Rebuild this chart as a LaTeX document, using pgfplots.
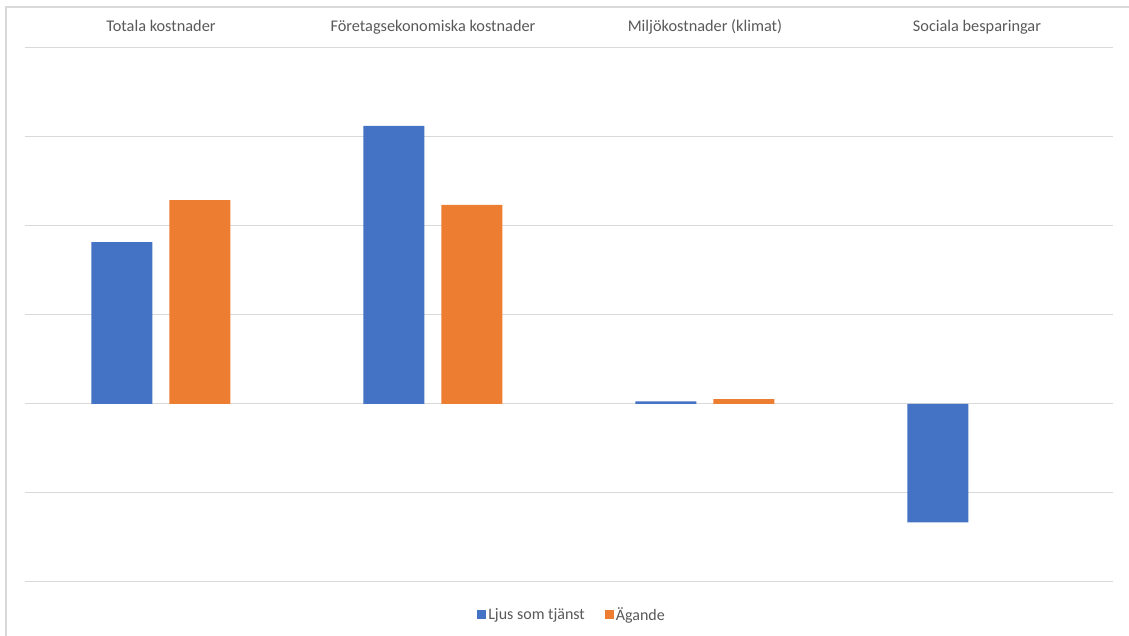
\documentclass[border=0pt]{standalone}
\usepackage{fontspec}
\setmainfont{Carlito}
\usepackage{pgfplots}
\pgfplotsset{compat=1.18}
\definecolor{cblue}{HTML}{4472C4}
\definecolor{corange}{HTML}{ED7D31}
\definecolor{cgrid}{HTML}{D9D9D9}
\definecolor{ctext}{HTML}{595959}
\begin{document}
\begin{tikzpicture}[x=1pt,y=1pt]
\useasboundingbox (0,0) rectangle (1129,636);
\draw[cgrid,line width=1.5pt] (6,0) -- (6,629) -- (1129,629);
\begin{axis}[
  at={(25pt,54pt)}, anchor=south west,
  scale only axis, width=1088pt, height=534pt,
  ybar=17pt, bar width=61pt,
  xmin=-0.5, xmax=3.5, ymin=-2, ymax=4,
  xtick={0,1,2,3},
  xticklabels={Totala kostnader, Företagsekonomiska kostnader, Miljökostnader (klimat), Sociala besparingar},
  xticklabel pos=upper,
  xticklabel style={font=\fontsize{16.3}{19}\selectfont, text=ctext, anchor=base, yshift=12pt},
  ytick={-2,-1,0,1,2,3,4}, yticklabels={},
  ymajorgrids, grid style={cgrid, line width=1pt},
  axis line style={draw=none}, tick style={draw=none},
  legend style={at={(0.5028,-0.0618)}, anchor=center, draw=none, legend columns=-1,
    font=\fontsize{16}{19}\selectfont, text=ctext,
    /tikz/every even column/.append style={column sep=18pt}},
  legend image code/.code={\fill[#1] (0pt,-4.5pt) rectangle (9pt,4.5pt);},
]
\addplot[fill=cblue, draw=none] coordinates {(0,1.82) (1,3.124) (2,0.03) (3,-1.33)};
\addplot[fill=corange, draw=none] coordinates {(0,2.29) (1,2.236) (2,0.055)};
\legend{Ljus som tjänst, Ägande}
\end{axis}
\end{tikzpicture}
\end{document}
